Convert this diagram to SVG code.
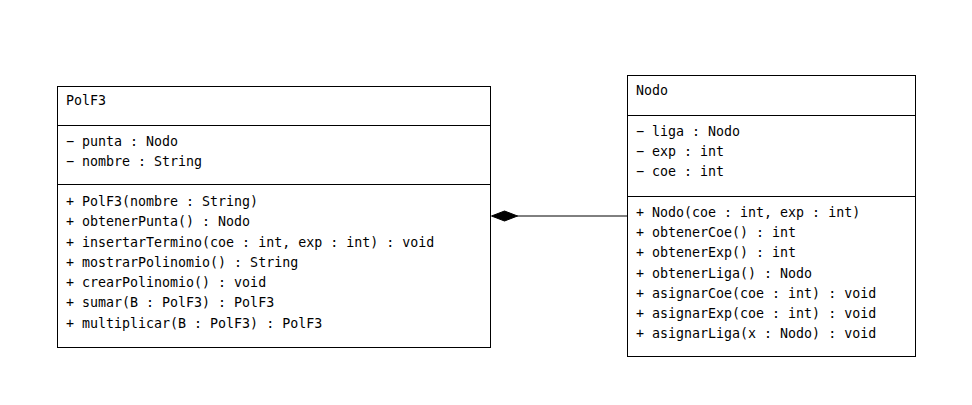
<svg xmlns="http://www.w3.org/2000/svg" width="972" height="405" viewBox="0 0 972 405">
<style>
.box{fill:#fff;stroke:#000;stroke-width:1}
.sep{stroke:#000;stroke-width:1}
text{font-family:"DejaVu Sans Mono","Liberation Mono",monospace;font-size:13.3px;fill:#000}
.conn{stroke:#000;stroke-width:1;fill:none}
</style>
<rect width="972" height="405" fill="#fff"/>
<g id="connectors">
<line class="conn" x1="517" y1="216" x2="627" y2="216"/>
<polygon points="491.5,216 504.5,211 517.5,216 504.5,221" fill="#000" stroke="#000" stroke-width="1"/>
</g>
<g id="PolF3">
<rect class="box" x="57.5" y="86.5" width="433" height="261"/>
<line class="sep" x1="57.5" y1="125.5" x2="490.5" y2="125.5"/>
<line class="sep" x1="57.5" y1="184.5" x2="490.5" y2="184.5"/>
<text x="66" y="105">PolF3</text>
<text x="66" y="146">− punta : Nodo</text>
<text x="66" y="166">− nombre : String</text>
<text x="66" y="206">+ PolF3(nombre : String)</text>
<text x="66" y="226.3">+ obtenerPunta() : Nodo</text>
<text x="66" y="246.5">+ insertarTermino(coe : int, exp : int) : void</text>
<text x="66" y="266.8">+ mostrarPolinomio() : String</text>
<text x="66" y="287">+ crearPolinomio() : void</text>
<text x="66" y="307.3">+ sumar(B : PolF3) : PolF3</text>
<text x="66" y="327.5">+ multiplicar(B : PolF3) : PolF3</text>
</g>
<g id="Nodo">
<rect class="box" x="627.5" y="75.5" width="288" height="281"/>
<line class="sep" x1="627.5" y1="115.5" x2="915.5" y2="115.5"/>
<line class="sep" x1="627.5" y1="196.5" x2="915.5" y2="196.5"/>
<text x="636" y="95">Nodo</text>
<text x="636" y="136">− liga : Nodo</text>
<text x="636" y="156">− exp : int</text>
<text x="636" y="176">− coe : int</text>
<text x="636" y="217">+ Nodo(coe : int, exp : int)</text>
<text x="636" y="237.2">+ obtenerCoe() : int</text>
<text x="636" y="257.3">+ obtenerExp() : int</text>
<text x="636" y="277.5">+ obtenerLiga() : Nodo</text>
<text x="636" y="297.7">+ asignarCoe(coe : int) : void</text>
<text x="636" y="317.8">+ asignarExp(coe : int) : void</text>
<text x="636" y="338">+ asignarLiga(x : Nodo) : void</text>
</g>
</svg>
